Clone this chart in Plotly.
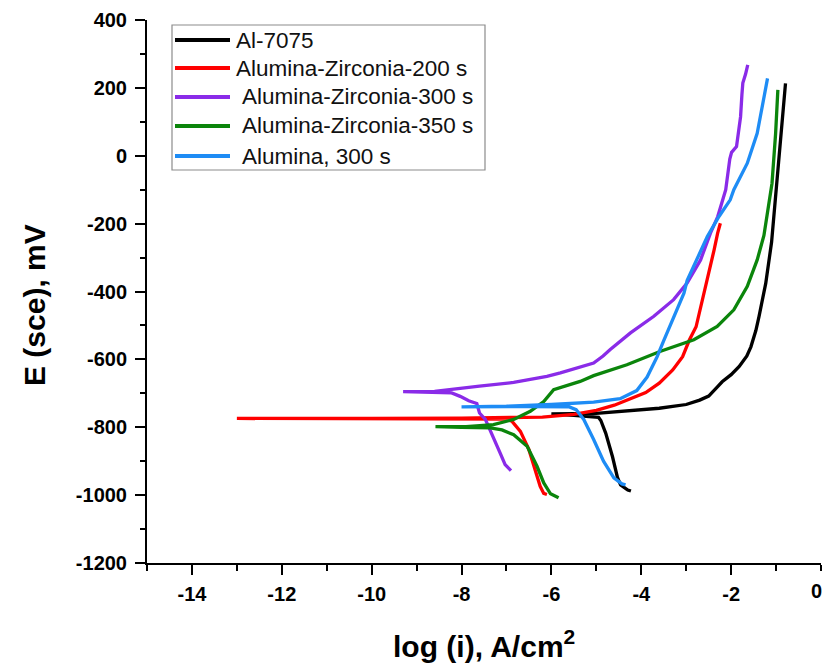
import plotly.graph_objects as go

# Potentiodynamic polarization curves: log current density vs potential (mV vs SCE)
series_names = [
    "Al-7075",
    "Alumina-Zirconia-200 s",
    "Alumina-Zirconia-300 s",
    "Alumina-Zirconia-350 s",
    "Alumina, 300 s",
]
series_colors = ["#000000", "#ff0000", "#8a2be8", "#0b850b", "#1e8cf5"]

# Al-7075 (cathodic branch up to Ecorr, then anodic branch)
al7075_logi = [-4.23, -4.30, -4.46, -4.53, -4.64, -4.79, -4.90, -4.95, -5.5, -6.0,
               -5.0, -4.0, -3.6, -3.0, -2.7, -2.5, -2.42, -2.3, -2.2, -2.0, -1.82,
               -1.65, -1.56, -1.45, -1.38, -1.30, -1.23, -1.10, -1.00, -0.90, -0.83, -0.79]
al7075_e = [-988, -985, -970, -948, -887, -818, -780, -771, -765, -761,
            -759, -750, -744, -733, -720, -708, -698, -680, -666, -645, -621,
            -590, -563, -515, -474, -425, -376, -255, -100, 66, 160, 213]

# Alumina-Zirconia-200 s
az200_logi = [-6.10, -6.17, -6.25, -6.36, -6.50, -6.69, -6.88, -7.0, -10.0, -13.0,
              -10.0, -8.0, -7.0, -6.2, -5.5, -5.0, -4.6, -4.3, -3.9, -3.6, -3.3,
              -3.08, -2.93, -2.78, -2.64, -2.49, -2.38, -2.30, -2.24]
az200_e = [-998, -995, -974, -925, -866, -812, -782, -776, -775, -774,
           -774, -773, -772, -770, -762, -750, -735, -720, -698, -670, -631,
           -592, -543, -504, -425, -346, -278, -228, -199]

# Alumina-Zirconia-300 s
az300_logi = [-6.90, -7.03, -7.14, -7.25, -7.36, -7.47, -7.60, -7.66, -7.84, -8.03,
              -8.22, -8.8, -9.3, -8.6, -8.0, -7.6, -6.84, -6.1, -5.8, -5.4, -5.06,
              -4.85, -4.69, -4.24, -3.72, -3.28, -2.98, -2.68, -2.46, -2.30, -2.12,
              -2.03, -1.99, -1.88, -1.82, -1.79, -1.76, -1.74, -1.68, -1.65, -1.63]
az300_e = [-928, -910, -876, -841, -807, -777, -758, -730, -722, -709,
           -699, -696, -695, -694, -684, -679, -668, -650, -640, -625, -611,
           -590, -571, -522, -473, -424, -375, -307, -228, -180, -100,
           -10, 10, 27, 80, 115, 180, 214, 240, 255, 268]

# Alumina-Zirconia-350 s
az350_logi = [-5.84, -5.95, -6.02, -6.17, -6.32, -6.54, -6.84, -7.1, -7.36, -8.0,
              -8.58, -7.9, -7.29, -6.84, -6.47, -6.17, -5.95, -5.65, -5.36, -5.06,
              -4.32, -3.57, -2.83, -2.31, -1.94, -1.64, -1.42, -1.27, -1.16, -1.09,
              -1.01, -0.96]
az350_e = [-1008, -1002, -996, -964, -915, -856, -822, -808, -802, -800,
           -798, -798, -792, -777, -753, -724, -689, -676, -665, -648,
           -616, -576, -542, -503, -454, -385, -307, -235, -140, -81,
           66, 194]

# Alumina, 300 s
al2o3_logi = [-4.35, -4.43, -4.61, -4.84, -5.06, -5.28, -5.45, -5.6, -6.5, -8.0,
              -7.0, -6.0, -5.5, -5.06, -4.47, -4.10, -3.87, -3.65, -3.50, -3.28,
              -3.05, -2.98, -2.76, -2.53, -2.27, -2.02, -1.94, -1.64, -1.42, -1.27, -1.19]
al2o3_e = [-970, -967, -949, -900, -836, -777, -748, -740, -739, -740,
           -738, -733, -730, -726, -716, -692, -652, -593, -545, -475,
           -405, -368, -307, -238, -179, -130, -100, -22, 66, 164, 228]

curves = [
    (al7075_logi, al7075_e),
    (az200_logi, az200_e),
    (az300_logi, az300_e),
    (az350_logi, az350_e),
    (al2o3_logi, al2o3_e),
]

x_ticks = [-14, -12, -10, -8, -6, -4, -2, 0]
y_ticks = [400, 200, 0, -200, -400, -600, -800, -1000, -1200]

W, H = 825, 667
ML, MR, MT, MB = 147, 4, 20, 104
PW, PH = W - ML - MR, H - MT - MB


def px(x):
    return (x - ML) / PW


def py(y):
    return (H - MB - y) / PH


fig = go.Figure()
for name, color, (xs, ys) in zip(series_names, series_colors, curves):
    fig.add_trace(go.Scatter(
        x=xs, y=ys, mode="lines", name=name,
        line=dict(color=color, width=3.3),
        showlegend=False,
    ))

FONT = "Liberation Sans, Arial, sans-serif"
TICK_FONT = dict(family=FONT, size=20, color="black", weight="bold")
axis_common = dict(
    showline=True, linecolor="black", linewidth=2,
    showgrid=False, zeroline=False,
    ticks="outside", tickwidth=2, tickcolor="black", ticklen=10,
    tickfont=TICK_FONT,
    mirror=False,
)

# the last x label sits at the page edge, so it is placed as an annotation
x_inner = [v for v in x_ticks if v != x_ticks[-1]]
fig.update_xaxes(range=[-15, 0], tickvals=x_inner, ticktext=[str(v) for v in x_inner],
                 minor=dict(dtick=1, tick0=-15, ticklen=6, tickwidth=2, tickcolor="black",
                            ticks="outside", showgrid=False),
                 ticklabelstandoff=2,
                 **axis_common)
fig.update_yaxes(range=[-1200, 400], tickvals=y_ticks, ticktext=[str(v) for v in y_ticks],
                 minor=dict(dtick=100, tick0=0, ticklen=5, tickwidth=2, tickcolor="black",
                            ticks="outside", showgrid=False),
                 ticklabelstandoff=4,
                 **axis_common)

# Legend box drawn as shapes and text
shapes = [dict(type="rect", xref="paper", yref="paper",
               x0=px(172), x1=px(485), y0=py(170), y1=py(25),
               line=dict(color="#8c8c8c", width=1.2), fillcolor="white", layer="above")]
annotations = []
legend_rows = [40, 68, 97, 126, 156]
text_x = [234, 234, 240, 240, 240]
for name, color, ry, tx in zip(series_names, series_colors, legend_rows, text_x):
    shapes.append(dict(type="line", xref="paper", yref="paper",
                       x0=px(175), x1=px(230), y0=py(ry), y1=py(ry),
                       line=dict(color=color, width=4), layer="above"))
    annotations.append(dict(xref="paper", yref="paper", x=px(tx), y=py(ry),
                            xanchor="left", yanchor="middle", showarrow=False,
                            text=name, font=dict(family=FONT, size=22.5, color="#111111")))

# label for the right end of the x axis, kept inside the page
annotations.append(dict(xref="paper", yref="paper", x=px(824), y=py(591),
                        xanchor="right", yanchor="middle", showarrow=False,
                        text=str(x_ticks[-1]), font=TICK_FONT))

# Axis titles
annotations.append(dict(xref="paper", yref="paper", x=px(34), y=py(305),
                        xanchor="center", yanchor="middle", showarrow=False, textangle=-90,
                        text="E (sce), mV",
                        font=dict(family=FONT, size=30, color="black", weight="bold")))
annotations.append(dict(xref="paper", yref="paper", x=px(484), y=py(644),
                        xanchor="center", yanchor="middle", showarrow=False,
                        text="log (i), A/cm<sup>2</sup>",
                        font=dict(family=FONT, size=30, color="black", weight="bold")))

fig.update_layout(
    width=W, height=H,
    margin=dict(l=ML, r=MR, t=MT, b=MB, autoexpand=False),
    paper_bgcolor="white", plot_bgcolor="white",
    shapes=shapes, annotations=annotations,
    showlegend=False,
)

fig.write_html("out.html")
